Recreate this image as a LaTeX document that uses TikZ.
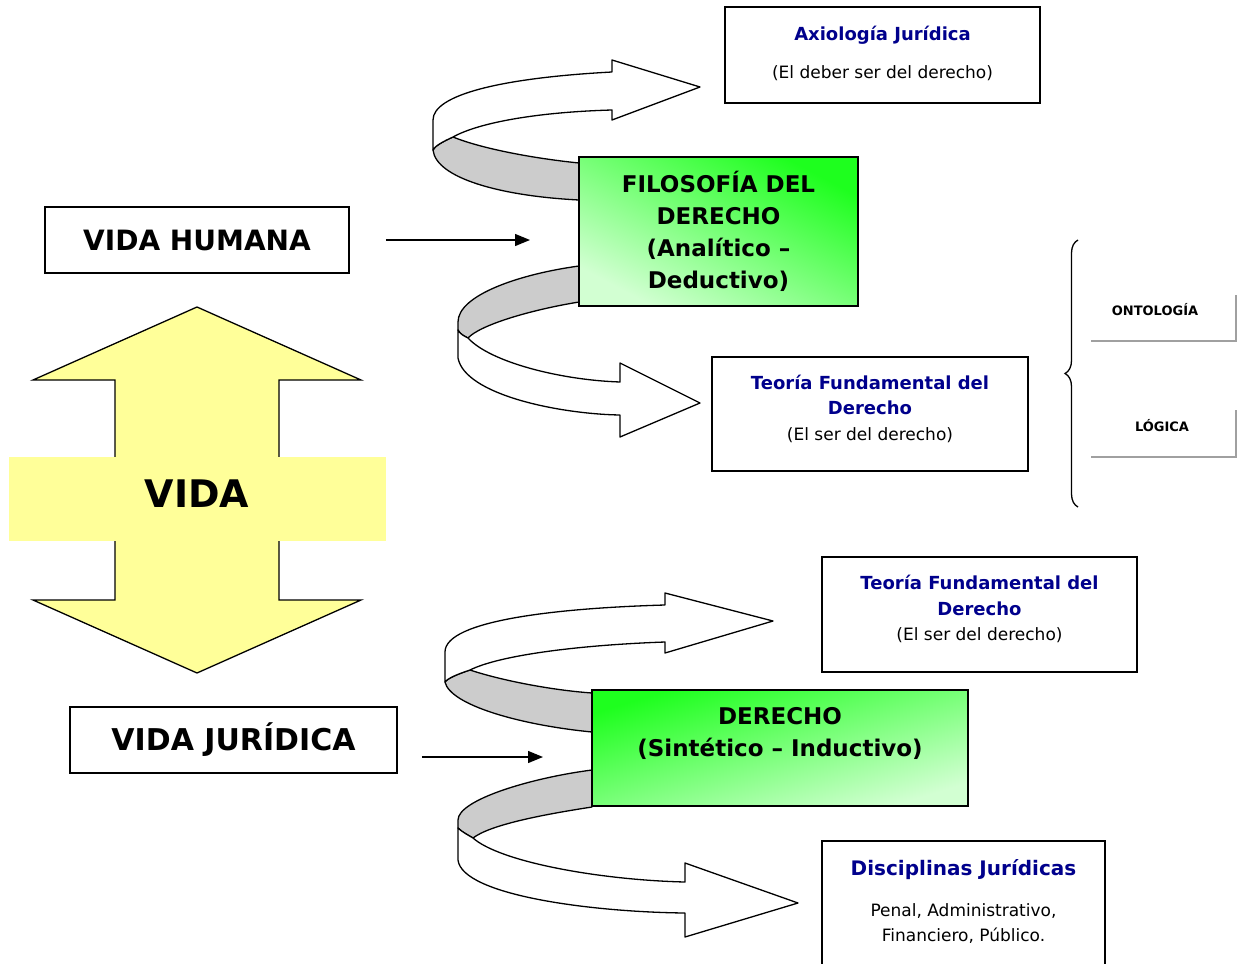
\documentclass[tikz,border=0pt]{standalone}
\usepackage{fontspec}
\setmainfont{DejaVu Sans}
\usetikzlibrary{arrows.meta,decorations.pathreplacing}

\definecolor{verdevivo}{RGB}{30,255,30}
\definecolor{verdepalido}{RGB}{210,255,210}
\definecolor{amarillo}{RGB}{255,255,153}
\definecolor{azultitulo}{RGB}{0,0,140}
\definecolor{grisfondo}{RGB}{204,204,204}
\definecolor{grislinea}{RGB}{160,160,160}

\newcommand{\titulo}[1]{\textcolor{azultitulo}{\bfseries\fontsize{18}{25.5}\selectfont #1}}

\tikzset{
  vidabox/.style={draw, line width=1.6pt, fill=white, font=\bfseries\fontsize{28}{32}\selectfont},
  ciencia/.style={draw, line width=1.6pt, align=center, font=\bfseries\fontsize{23}{32}\selectfont},
  rama/.style={draw, line width=1.6pt, fill=white, align=center, font=\fontsize{17}{25.5}\selectfont},
  flecha/.style={line width=1.3pt, -{Triangle[length=15pt,width=12pt]}},
  cinta/.style={draw, line width=1.3pt, fill=white, line join=round},
  reves/.style={draw, line width=1.3pt, fill=grisfondo, line join=round},
  estante/.style={draw=grislinea, line width=2pt},
  etiqueta/.style={font=\bfseries\fontsize{13}{15}\selectfont}
}

\begin{document}
\begin{tikzpicture}[x=1pt,y=-1pt]
\useasboundingbox (0,0) rectangle (1241,963);

% flecha doble VIDA
\draw[line width=1.3pt, fill=amarillo, line join=miter]
  (197,307) -- (361,380) -- (279,380) -- (279,600) -- (361,600) -- (197,673)
  -- (33,600) -- (115,600) -- (115,380) -- (33,380) -- cycle;
\fill[amarillo] (9,457) rectangle (386,541);
\node[font=\bfseries\fontsize{38}{44}\selectfont] (vida) at (197,494) {VIDA};

\node[vidabox, minimum width=304pt, minimum height=66pt] (vidahumana) at (197,240) {VIDA HUMANA};
\node[vidabox, minimum width=327pt, minimum height=66pt, font=\bfseries\fontsize{30}{32}\selectfont] (vidajuridica) at (233.5,740) {VIDA JURÍDICA};

% cintas de la filosofia
\draw[reves] (433,150) .. controls (436,178) and (500,196) .. (579,200) -- (579,163)
  .. controls (530,158) and (480,148) .. (453,137) .. controls (442,142) and (435,146) .. (433,150) -- cycle;
\draw[cinta] (433,150) -- (433,120) .. controls (433,95) and (500,78) .. (612,72)
  -- (612,60) -- (700,87) -- (612,120) -- (612,110)
  .. controls (540,112) and (480,122) .. (453,137) .. controls (442,142) and (435,146) .. (433,150) -- cycle;

\draw[reves] (579,266) .. controls (520,274) and (458,295) .. (458,322) -- (458,330)
  .. controls (460,334) and (464,336) .. (468,338) .. controls (480,325) and (530,310) .. (579,302) -- cycle;
\draw[cinta] (458,330) -- (458,358) .. controls (465,395) and (560,414) .. (620,415)
  -- (620,437) -- (700,403) -- (620,363) -- (620,382)
  .. controls (560,380) and (490,362) .. (468,338) .. controls (464,336) and (460,334) .. (458,330) -- cycle;

% cintas del derecho
\draw[reves] (445,682) .. controls (450,705) and (520,725) .. (592,732) -- (592,693)
  .. controls (550,690) and (500,680) .. (470,670) .. controls (458,674) and (448,678) .. (445,682) -- cycle;
\draw[cinta] (445,682) -- (445,652) .. controls (445,620) and (560,608) .. (665,605)
  -- (665,593) -- (773,621) -- (665,653) -- (665,642)
  .. controls (580,645) and (500,655) .. (470,670) .. controls (458,674) and (448,678) .. (445,682) -- cycle;

\draw[reves] (592,770) .. controls (530,778) and (458,800) .. (458,820) -- (458,828)
  .. controls (462,832) and (468,835) .. (473,838) .. controls (490,825) and (540,815) .. (592,807) -- cycle;
\draw[cinta] (458,828) -- (458,860) .. controls (462,895) and (590,912) .. (685,913)
  -- (685,937) -- (798,903) -- (685,863) -- (685,882)
  .. controls (600,880) and (500,862) .. (473,838) .. controls (468,835) and (462,832) .. (458,828) -- cycle;

% cajas verdes
\node[ciencia, minimum width=279pt, minimum height=149pt,
  top color=verdevivo, bottom color=verdepalido, shading angle=-28] (filosofia) at (718.5,231.5)
  {FILOSOFÍA DEL\\DERECHO\\(Analítico –\\Deductivo)};
\node[ciencia, minimum width=376pt, minimum height=116pt,
  top color=verdevivo, bottom color=verdepalido, shading angle=17] (derecho) at (780,748)
  {DERECHO\\(Sintético – Inductivo)\\\mbox{}};

% ramas
\node[rama, minimum width=315pt, minimum height=96pt] (axiologia) at (882.5,55)
  {\titulo{Axiología Jurídica}\\[12pt](El deber ser del derecho)\\[-20pt]\mbox{}};
\node[rama, minimum width=316pt, minimum height=114pt] (teoria) at (870,414)
  {\titulo{Teoría Fundamental del}\\\titulo{Derecho}\\(El ser del derecho)\\[-13pt]\mbox{}};
\node[rama, minimum width=315pt, minimum height=115pt] (teoriabis) at (979.5,614.5)
  {\titulo{Teoría Fundamental del}\\\titulo{Derecho}\\(El ser del derecho)\\[-13pt]\mbox{}};
\node[rama, minimum width=283pt, minimum height=125pt] (disciplinas) at (963.5,903.5)
  {\titulo{\fontsize{20}{24}\selectfont Disciplinas Jurídicas}\\[15pt]Penal, Administrativo,\\Financiero, Público.\\[-20pt]\mbox{}};

% flechas de entrada
\coordinate (entradaF) at (530,240);
\coordinate (entradaD) at (543,757);
\draw[flecha] ([xshift=36pt]vidahumana.east) -- (entradaF);
\draw[flecha] ([xshift=24pt,yshift=-17pt]vidajuridica.east) -- (entradaD);

% llave y partes
\draw[decorate, decoration={brace, amplitude=13pt}, line width=1.3pt] (1078,507) -- (1078,240);
\node[etiqueta] (ontologia) at (1155,310) {ONTOLOGÍA};
\node[etiqueta] (logica) at (1162,426) {LÓGICA};
\draw[estante] (1091,341) -- (1236,341) -- (1236,295);
\draw[estante] (1091,457) -- (1236,457) -- (1236,410);
\end{tikzpicture}
\end{document}
